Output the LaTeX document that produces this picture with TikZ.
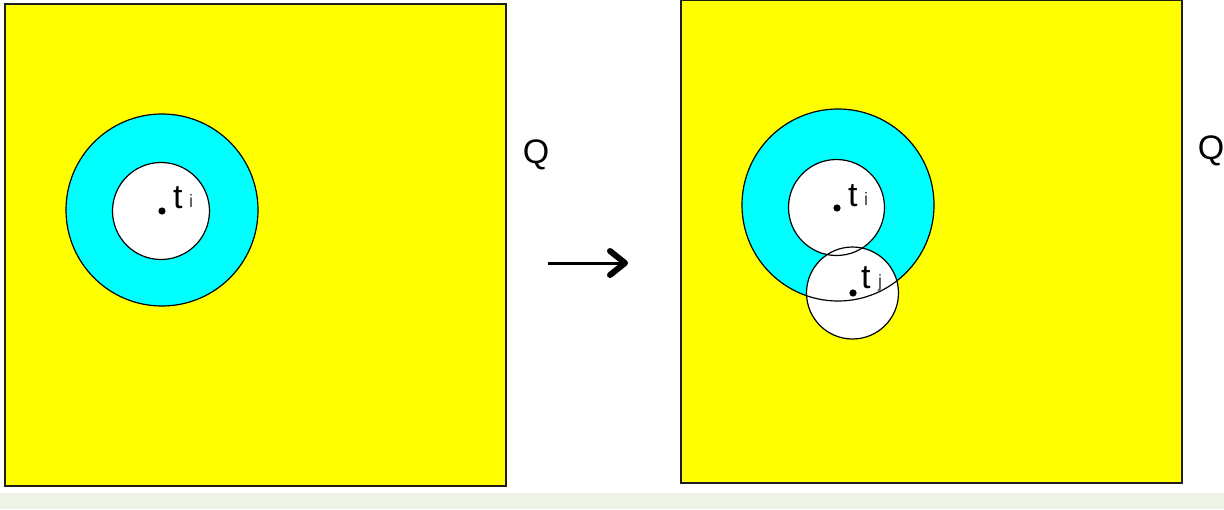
\documentclass[tikz,border=0pt]{standalone}
\usepackage{fontspec}
\setmainfont{Liberation Sans}
\usetikzlibrary{arrows.meta}
\definecolor{qyellow}{RGB}{255,255,0}
\definecolor{qcyan}{RGB}{0,255,255}
\definecolor{qstrip}{RGB}{238,243,232}
\definecolor{qedge}{RGB}{30,30,30}
\definecolor{qsub}{RGB}{60,60,60}
\begin{document}
\begin{tikzpicture}[x=1pt,y=-1pt,
  square/.style={draw=qedge,line width=1.6pt,fill=qyellow},
  ring/.style={draw=black,line width=1.2pt},
  tlabel/.style={inner sep=0pt,anchor=base west,font=\fontsize{34}{34}\selectfont},
  slabel/.style={inner sep=0pt,anchor=base west,text=qsub,font=\fontsize{18}{18}\selectfont},
  qlabel/.style={inner sep=0pt,font=\fontsize{34}{34}\selectfont}]
\useasboundingbox (0,0) rectangle (1224,509);
\fill[white] (0,0) rectangle (1224,509);
\fill[qstrip] (0,493) rectangle (1224,509);
% squares
\draw[square] (5,4) rectangle (506,486);
\draw[square] (681,0) rectangle (1182,483);
% left picture
\fill[qcyan] (162,210) circle (96);
\fill[white] (161,211) circle (48.5);
\draw[ring] (162,210) circle (96);
\draw[ring] (161,211) circle (48.5);
\fill (162,211) circle (3.6);
\node[tlabel] (lt) at (173,208) {t};
\node[slabel] (li) at (189,207) {i};
\node[qlabel] (lq) at (536,155) {Q};
% arrow
\coordinate (a1) at (548,263);
\coordinate (a2) at (628,263);
\draw[line width=3pt,-{Straight Barb[length=15pt,width=24pt,line width=6pt,line cap=round,line join=round]}] (a1) -- (a2);
% right picture
\fill[qcyan] (838,205) circle (96);
\fill[white] (836.5,207.5) circle (48);
\fill[white] (852.5,293) circle (46);
\draw[ring] (838,205) circle (96);
\draw[ring] (836.5,207.5) circle (48);
\draw[ring] (852.5,293) circle (46);
\fill (837,208) circle (3.6);
\fill (853,293) circle (3.6);
\node[tlabel] (rt) at (848,206) {t};
\node[slabel] (ri) at (864,205) {i};
\node[tlabel] (rtj) at (861,288) {t};
\node[slabel] (rj) at (878,287) {j};
\node[qlabel] (rq) at (1211,151) {Q};
\end{tikzpicture}
\end{document}
